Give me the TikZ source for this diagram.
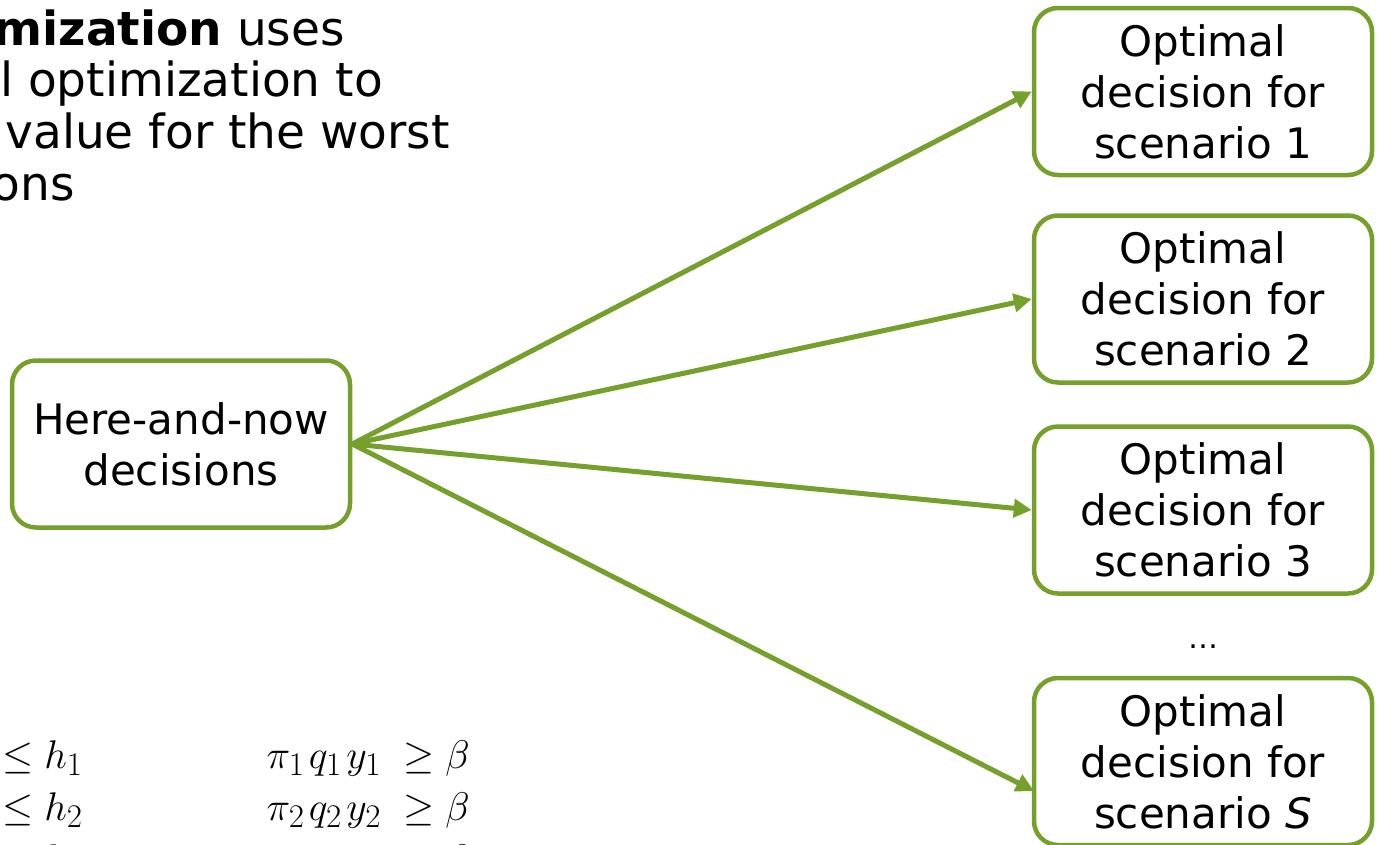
\RequirePackage{fix-cm}
\documentclass[tikz,border=0pt]{standalone}
\usepackage{fontspec}
\setmainfont{DejaVu Sans}
\DeclareMathSizes{40}{40}{33}{26}
\usetikzlibrary{arrows.meta,calc}
\definecolor{leaf}{RGB}{118,160,44}
\tikzset{
  dbox/.style={draw=leaf, line width=4.5pt, rounded corners=24pt, fill=white,
    minimum width=338pt, minimum height=167pt, inner sep=0pt, align=center,
    font=\fontsize{42}{51}\selectfont},
  conn/.style={draw=leaf, line width=5pt, -{Triangle[length=18pt,width=18pt]}},
  bodytext/.style={inner sep=0pt, font=\fontsize{47}{52}\selectfont},
  eqtext/.style={inner sep=0pt, font=\fontsize{40}{52}\selectfont}
}
\begin{document}
\begin{tikzpicture}[x=1pt,y=-1pt]
\useasboundingbox (0,0) rectangle (1381,844);
\clip (0,0) rectangle (1381,844);
% top-left text
\node[bodytext, anchor=base east] (t1) at (345,45) {\textbf{mization} uses};
\node[bodytext, anchor=base east] (t2) at (383,96.7) {l optimization to};
\node[bodytext, anchor=base east] (t3) at (450,148) {value for the worst};
\node[bodytext, anchor=base east] (t4) at (75,200) {ons};
% connectors
\coordinate (sEnd) at (1034,791);
% boxes
\node[dbox] (L) at (181,444) {Here-and-now\\decisions};
\node[dbox] (R1) at (1203,91.5) {Optimal\\decision for\\scenario 1};
\node[dbox] (R2) at (1203,299) {Optimal\\decision for\\scenario 2};
\node[dbox] (R3) at (1203,510) {Optimal\\decision for\\scenario 3};
\node[dbox] (RS) at (1203,761.5) {Optimal\\decision for\\scenario \textit{S}};
\node[inner sep=0pt, anchor=base, font=\fontsize{30}{34}\selectfont] (dots) at (1203,648) {\textellipsis};
\draw[conn] (L.east) -- (R1.west);
\draw[conn] (L.east) -- (R2.west);
\draw[conn] (L.east) -- (R3.west);
\draw[conn] (L.east) -- (sEnd);
% equations
\node[eqtext, anchor=base west] (e1) at (2,768) {$\le h_1$};
\node[eqtext, anchor=base west] (e2) at (2,820) {$\le h_2$};
\node[eqtext, anchor=base west] (e3) at (2,872) {$\le h_S$};
\node[eqtext, anchor=base east] (f1) at (470,768) {$\pi_1\mkern2mu q_1\mkern2mu y_1 \;\ge \beta$};
\node[eqtext, anchor=base east] (f2) at (470,820) {$\pi_2\mkern2mu q_2\mkern2mu y_2 \;\ge \beta$};
\node[eqtext, anchor=base east] (f3) at (470,872) {$\pi_S\mkern2mu q_S\mkern2mu y_S \;\ge \beta$};
\end{tikzpicture}
\end{document}
